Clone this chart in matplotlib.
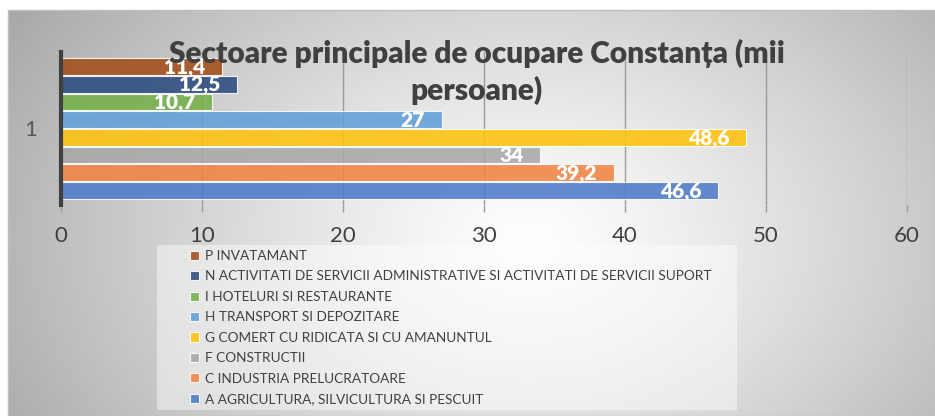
import numpy as np
import matplotlib.pyplot as plt
from matplotlib.patches import Rectangle

# series, from the bottom bar to the top bar
sectors = [
    "A AGRICULTURA, SILVICULTURA SI PESCUIT",
    "C INDUSTRIA PRELUCRATOARE",
    "F CONSTRUCTII",
    "G COMERT CU RIDICATA SI CU AMANUNTUL",
    "H TRANSPORT SI DEPOZITARE",
    "I HOTELURI SI RESTAURANTE",
    "N ACTIVITATI DE SERVICII ADMINISTRATIVE SI ACTIVITATI DE SERVICII SUPORT",
    "P INVATAMANT",
]
values = [46.6, 39.2, 34, 48.6, 27, 10.7, 12.5, 11.4]
colors = ["#4f7bc8", "#ee8545", "#a8a8a8", "#ffc20e",
          "#62a0d8", "#74b04c", "#2c4b7f", "#a24e1a"]
category = "1"
xticks = [0, 10, 20, 30, 40, 50, 60]
title = "Sectoare principale de ocupare Constanța (mii\npersoane)"

plt.rcParams['font.family'] = ['Lato', 'DejaVu Sans']

W, H = 935, 416
fig = plt.figure(figsize=(W / 100, H / 100), dpi=100)

# background: radial grey gradient of the chart area
bg = fig.add_axes([8 / W, 0, 1 - 8 / W, 1 - 10 / H])
yy, xx = np.mgrid[0:406, 0:927]
r = np.sqrt(((xx - 520) / 470.0) ** 2 + ((yy - 230) / 330.0) ** 2)
g = 1 - 0.25 * np.clip(r, 0, 1.3) ** 1.2
bg.imshow(np.dstack([g, g, g]), aspect='auto', extent=[0, 1, 0, 1], origin='upper')
bg.set_xlim(0, 1)
bg.set_ylim(0, 1)
for s in bg.spines.values():
    s.set_color('#bfbfbf')
    s.set_linewidth(1)
bg.set_xticks([])
bg.set_yticks([])

# white-ish legend box
bg.add_patch(Rectangle(((157 - 8) / 927, 6 / 406), (737 - 157) / 927, (410 - 245) / 406,
                       transform=bg.transAxes, facecolor='white', alpha=0.45,
                       edgecolor='none'))

ax = fig.add_axes([61 / W, (H - 205) / H, (907 - 61) / W, (205 - 52) / H])
ax.patch.set_alpha(0)
ypos = np.arange(len(values))
bars = ax.barh(ypos, values, height=0.94, color=colors, alpha=0.88,
               edgecolor='white', linewidth=0.8, zorder=3)
for b, v in zip(bars, values):
    ax.annotate(f"{v:g}".replace('.', ','), (v, b.get_y() + b.get_height() / 2),
                xytext=(-12, -0.5), textcoords='offset points', ha='right', va='center',
                color='white', fontsize=15, fontweight='heavy', zorder=5)

ax.set_xlim(0, 60)
ax.set_ylim(-0.82, 7.82)
ax.set_xticks(xticks)
ax.set_xticklabels([str(t) for t in xticks], fontsize=16, color='#404040')
ax.tick_params(axis='x', length=5, width=1, color='#9a9a9a', pad=10)
ax.set_yticks([])
ax.grid(axis='x', color='#9a9a9a', linewidth=1, zorder=1)
for s in ['top', 'right', 'bottom']:
    ax.spines[s].set_visible(False)
ax.spines['left'].set_color('#404040')
ax.spines['left'].set_linewidth(3)
ax.spines['left'].set_zorder(6)

fig.text(31 / W, 1 - 130 / H, category, ha='center', va='center', fontsize=16, color='#595959')

fig.text(477 / W, 1 - 72 / H, title, ha='center', va='center', fontsize=21.5,
         fontweight='heavy', color='#404040', linespacing=1.3, zorder=10)

leg = fig.legend(list(bars)[::-1], sectors[::-1], loc='upper left',
                 bbox_to_anchor=(190 / W, 1 - 250 / H), frameon=False, fontsize=9.8,
                 labelcolor='#404040', labelspacing=0.62, handlelength=0.65,
                 handleheight=0.65, handletextpad=0.45, borderaxespad=0, borderpad=0)

fig.savefig("out.png", dpi=100)
